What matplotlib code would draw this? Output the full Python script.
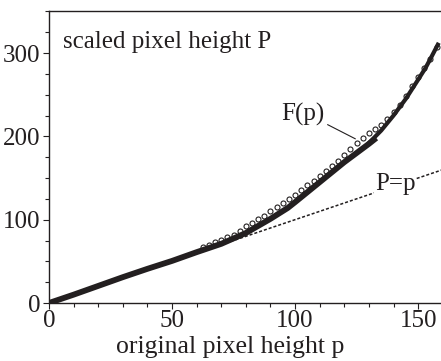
import numpy as np
from matplotlib import pyplot as plt
from matplotlib.ticker import MultipleLocator

plt.rcParams['font.family'] = ['Liberation Serif', 'DejaVu Serif']

# thick measured curve F(p)
line_p = [0, 10, 20, 30, 40, 50, 60, 70, 80, 90, 97, 100, 110, 120, 130, 133]
line_P = [0, 10, 20.5, 31, 41, 50.5, 61, 71, 84, 101, 114, 121, 145, 169, 191, 198]

# upper part of the curve (thinner stroke)
top_p = [130, 135, 140, 145, 150, 153, 155, 158]
top_P = [192, 207, 225, 245, 268, 282, 293, 310]

# open circles (second data set)
circ_p = [62.5, 65, 67.5, 70, 72.5, 75, 77.5, 80, 82.5, 85, 87.5, 90, 92.5, 95,
          97.5, 100, 102.5, 105, 107.5, 110, 112.5, 115, 117.5, 120, 122.5, 125,
          127.5, 130, 132.5, 135, 137.5, 140, 142.5, 145, 147.5, 150, 152.5, 155,
          157.5]
circ_P = [67, 70, 73, 76, 79, 82, 87, 92, 96, 101, 105, 110, 115, 120,
          125, 130, 136, 142, 147, 153, 158, 164, 171, 178, 185, 192,
          198, 204, 209, 214, 221, 229, 238, 248, 260, 271, 282, 293,
          307]

# identity reference line P = p
ident_p = [0, 160]
ident_P = [0, 160]

fig = plt.figure(figsize=(4.41, 3.61), dpi=100)
ax = fig.add_axes([49 / 441, 1 - 303 / 361, 392 / 441, 292 / 361])

ink = '#231f20'
ax.plot(ident_p, ident_P, color=ink, lw=1.1, linestyle=(0, (2, 1.3)), zorder=1)
ax.plot(circ_p, circ_P, 'o', ms=3.6, mfc='white', mec=ink, mew=0.8, zorder=2)
ax.plot(line_p, line_P, color=ink, lw=4.2, solid_capstyle='butt', zorder=3)
ax.plot(top_p, top_P, color=ink, lw=3.0, zorder=3)

ax.set_xlim(0, 159.3)
ax.set_ylim(0, 350.4)

ax.xaxis.set_major_locator(MultipleLocator(50))
ax.xaxis.set_minor_locator(MultipleLocator(10))
ax.yaxis.set_major_locator(MultipleLocator(100))
ax.yaxis.set_minor_locator(MultipleLocator(25))
ax.tick_params(which='both', direction='out', width=0.8, color=ink,
               labelsize=18, labelcolor=ink)
ax.tick_params(which='major', length=4.5)
ax.tick_params(which='minor', length=3.2)
ax.tick_params(axis='x', pad=0.5)
ax.tick_params(axis='y', pad=1.5)

ax.spines['right'].set_visible(False)
for s in ['left', 'bottom', 'top']:
    ax.spines[s].set_linewidth(1.0)
    ax.spines[s].set_color(ink)

ax.text(0.036, 0.873, 'scaled pixel height P', transform=ax.transAxes,
        fontsize=18, color=ink, ha='left', va='baseline')
ax.annotate('F(p)', xy=(124.5, 197), xytext=(94.5, 219.5),
            fontsize=18, color=ink, ha='left', va='baseline',
            arrowprops=dict(arrowstyle='-', color=ink, lw=0.8,
                            relpos=(1.0, 0.1), shrinkA=0, shrinkB=0))
ax.text(132.5, 135.5, 'P=p', fontsize=18, color=ink, ha='left', va='baseline',
        bbox=dict(facecolor='white', edgecolor='none', pad=0.5), zorder=4)

fig.text(230 / 441, 1 - 353 / 361, 'original pixel height p', fontsize=18.5,
         color=ink, ha='center', va='baseline')

fig.savefig('out.png', dpi=100)
